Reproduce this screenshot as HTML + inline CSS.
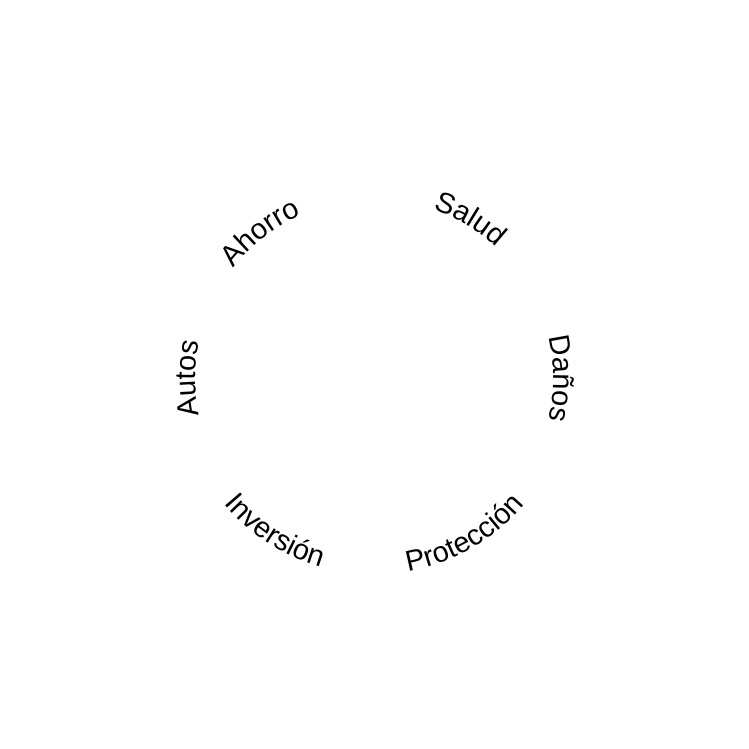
<!DOCTYPE html>
<html>
<head>
<meta charset="utf-8">
<style>
  html,body{margin:0;padding:0;background:#fff;}
  svg{display:block;}
  text{font-family:"Liberation Sans","DejaVu Sans",sans-serif;font-size:29px;fill:#000;}
</style>
</head>
<body>
<svg id="chart" width="749" height="749" viewBox="0 0 749 749" xmlns="http://www.w3.org/2000/svg">
  <defs id="defs"></defs>
  <g id="labels"></g>
</svg>
<script>
const categories = ["Salud", "Daños", "Protección", "Inversión", "Autos", "Ahorro"];
const angles = [31, 90, 150, 213, 270, 322];

const cx = 374, cy = 378, rTop = 179, rBottom = 196;
const ns = "http://www.w3.org/2000/svg";
const defs = document.getElementById("defs");
const g = document.getElementById("labels");

const pTop = document.createElementNS(ns, "path");
pTop.setAttribute("id", "arcCW");
pTop.setAttribute("d", `M ${cx} ${cy - rTop} A ${rTop} ${rTop} 0 1 1 ${cx} ${cy + rTop} A ${rTop} ${rTop} 0 1 1 ${cx} ${cy - rTop}`);
defs.appendChild(pTop);
const pBot = document.createElementNS(ns, "path");
pBot.setAttribute("id", "arcCCW");
pBot.setAttribute("d", `M ${cx} ${cy + rBottom} A ${rBottom} ${rBottom} 0 1 0 ${cx} ${cy - rBottom} A ${rBottom} ${rBottom} 0 1 0 ${cx} ${cy + rBottom}`);
defs.appendChild(pBot);

categories.forEach((c, i) => {
  const a = angles[i];
  const bottom = a > 100 && a < 260;
  let frac;
  if (bottom) { frac = (180 - a) / 360; if (frac < 0) frac += 1; }
  else { frac = a / 360; }
  const t = document.createElementNS(ns, "text");
  t.setAttribute("text-anchor", "middle");
  
  
  const tp = document.createElementNS(ns, "textPath");
  tp.setAttribute("href", bottom ? "#arcCCW" : "#arcCW");
  tp.setAttribute("startOffset", (frac * 100).toFixed(2) + "%");
  tp.textContent = c;
  t.appendChild(tp);
  g.appendChild(t);
});
</script>
</body>
</html>
